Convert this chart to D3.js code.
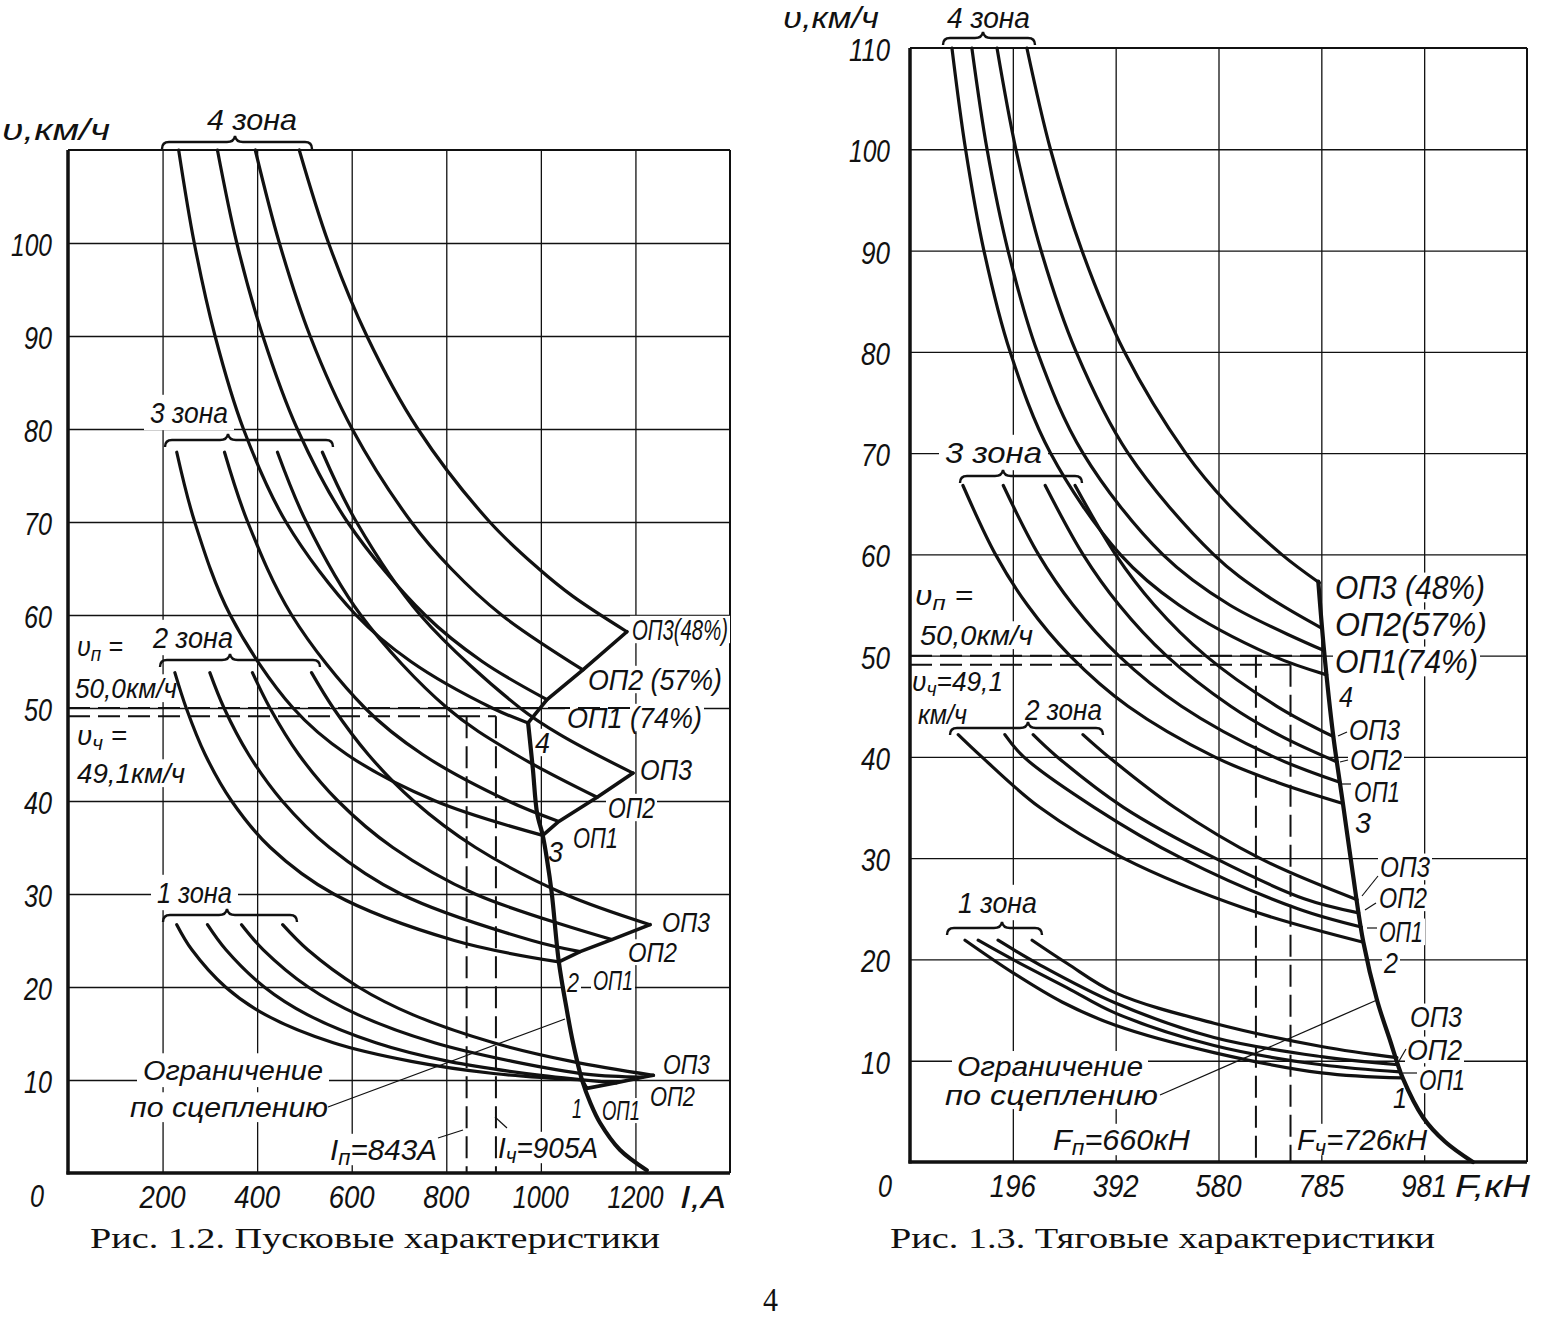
<!DOCTYPE html>
<html><head><meta charset="utf-8">
<script src="https://cdn.jsdelivr.net/npm/d3@7"></script>
<style>body{margin:0;background:#fff}svg{display:block}</style>
</head><body>
<svg id="c" width="1544" height="1318"></svg>
<script>
// ---------------- DATA: Рис. 1.2 (I, A ; v, km/h) ----------------
const L4_PP  = [[234,110],[267,100],[311,90],[371,80],[461,70],[609,60],[725,55],[897,50],[973,48.4]];
const L4_OP1 = [[316,110],[357,100],[412,90],[485,80],[591,70],[755,60],[876,55],[1013,50.9]];
const L4_OP2 = [[396,110],[447,100],[512,90],[601,80],[726,70],[810,65],[917,60],[1089,54.1]];
const L4_OP3 = [[489,110],[551,100],[632,90],[740,80],[892,70],[995,65],[1068,62],[1182,58.2]];
const L3_PP  = [[230,77.5],[268,70],[343,60],[476,50],[590,45],[777,40],[1004,36.3]];
const L3_OP1 = [[331,77.5],[380,70],[473,60],[628,50],[750,45],[931,40],[1038,37.8]];
const L3_OP2 = [[443,77.5],[504,70],[619,60],[802,50],[947,45],[1119,40.4]];
const L3_OP3 = [[538,77.5],[610,70],[745,60],[956,50],[1045,47],[1195,43.0]];
const L2_PP  = [[226,53.8],[250,50],[290,45],[346,40],[428,35],[562,30],[817,25],[1038,22.7]];
const L2_OP1 = [[300,53.8],[330,50],[382,45],[453,40],[553,35],[704,30],[981,25],[1083,23.8]];
const L2_OP2 = [[390,53.8],[427,50],[488,45],[571,40],[687,35],[861,30],[1150,25.1]];
const L2_OP3 = [[515,53.8],[561,50],[635,45],[731,40],[862,35],[1050,30],[1231,26.7]];
const L1_PP  = [[230,26.7],[262,24],[333,20],[418,17],[561,14],[726,12],[900,10.7],[1087,10.0]];
const L1_OP1 = [[295,26.7],[334,24],[415,20],[507,17],[651,14],[805,12],[1000,10.5],[1160,9.7]];
const L1_OP2 = [[367,26.7],[413,24],[508,20],[614,17],[775,14],[940,12],[1100,10.6],[1215,10.3]];
const L1_OP3 = [[454,26.7],[507,24],[614,20],[730,17],[900,14],[1065,12],[1238,10.5]];
const leftJoins = [
  [[973,48.4],[1013,50.9],[1089,54.1],[1182,58.2]],
  [[1004,36.3],[1038,37.8],[1119,40.4],[1195,43.0]],
  [[1038,22.7],[1083,23.8],[1150,25.1],[1231,26.7]],
  [[1087,10.0],[1097,9.1],[1160,9.7],[1215,10.3],[1238,10.5]]
];
const leftLimit = [[973,48.4],[983,43.5],[992,38.7],[1004,36.3],[1013,33.7],[1023,30.1],[1038,22.7],[1055,17.5],[1068,14.0],[1087,10.0],[1105,7.5],[1125,5.4],[1167,2.5],[1224,0.3]];
const leftXTicks = [200,400,600,800,1000,1200];
const leftXLabels = ['200','400','600','800','1000','1200'];
const leftYTicks = [10,20,30,40,50,60,70,80,90,100];
const leftVp = 50.0, leftVch = 49.1, leftIp = 843, leftIch = 905;

// ---------------- DATA: Рис. 1.3 (F, kN ; v, km/h) ----------------
const R4_PP  = [[80,110],[106,100],[141,90],[191,80],[268,70],[401,60],[513,55],[691,50],[795,48.1]];
const R4_OP1 = [[118,110],[147,100],[187,90],[243,80],[330,70],[482,60],[610,55],[790,50.5]];
const R4_OP2 = [[166,110],[202,100],[250,90],[317,80],[416,70],[579,60],[678,56],[786,52.7]];
const R4_OP3 = [[223,110],[268,100],[328,90],[409,80],[526,70],[606,65],[709,60],[781,57.2]];
const R3_PP  = [[101,66.8],[163,60],[224,55],[305,50],[416,45],[581,40],[700,37.5],[826,35.4]];
const R3_OP1 = [[178,66.8],[245,60],[311,55],[398,50],[518,45],[694,40],[820,37.5]];
const R3_OP2 = [[258,66.8],[330,60],[399,55],[489,50],[612,45],[710,42],[815,39.5]];
const R3_OP3 = [[315,66.8],[392,60],[466,55],[564,50],[700,45],[808,42.0]];
const R2_PP  = [[92,42.2],[137,40],[248,35],[407,30],[641,25],[865,21.7]];
const R2_OP1 = [[181,42.2],[217,40],[352,35],[518,30],[740,25],[861,23.2]];
const R2_OP2 = [[235,42.2],[281,40],[408,35],[582,30],[752,26],[856,24.6]];
const R2_OP3 = [[330,42.2],[379,40],[505,35],[667,30],[853,25.9]];
const R1_PP  = [[105,21.9],[196,18.7],[290,15.8],[392,13.5],[580,10.8],[785,8.8],[939,8.3]];
const R1_OP1 = [[130,21.9],[196,20.0],[300,17.2],[392,14.7],[580,11.5],[785,9.6],[935,8.9]];
const R1_OP2 = [[168,21.9],[250,19.4],[392,15.7],[580,12.3],[785,10.4],[931,9.6]];
const R1_OP3 = [[233,21.9],[300,19.6],[392,16.7],[580,13.7],[785,11.4],[929,10.3]];
const rightLimit = [[779,57.3],[790,50.5],[807,42.3],[826,35.4],[844,28.8],[865,21.7],[891,16.0],[916,12.0],[940,8.3],[979,4.4],[1021,2.0],[1074,0]];
const rightXTicks = [196.2,392.4,588.6,784.8,981];
const rightXLabels = ['196','392','580','785','981'];
const rightYTicks = [10,20,30,40,50,60,70,80,90,100];
const rightVp = 50.0, rightVch = 49.1, rightFp = 660, rightFch = 726;

// ---------------- LAYOUT ----------------
const INK = '#111';
const SANS = "'Liberation Sans', Arial, sans-serif";
const SERIF = "'Liberation Serif', 'Times New Roman', serif";
const svg = d3.select('#c');

const Lx = d3.scaleLinear().domain([0,1400]).range([68,730]);
const Ly = d3.scaleLinear().domain([0,110]).range([1173,150]);
const Rx = d3.scaleLinear().domain([0,1177.2]).range([910,1527]);
const Ry = d3.scaleLinear().domain([0,110]).range([1162,48]);

// text helper; o.bg = padding of a white box behind the text (cuts grid lines like the drawing)
function T(g, parts, x, y, o = {}) {
  const size = o.size || 30;
  const t = g.append('text').attr('x', x).attr('y', y)
    .attr('font-family', o.serif ? SERIF : SANS)
    .attr('font-style', o.serif ? 'normal' : 'italic')
    .attr('font-size', size).attr('fill', INK);
  if (o.w) t.attr('textLength', o.w).attr('lengthAdjust', 'spacingAndGlyphs');
  if (typeof parts === 'string') t.text(parts);
  else parts.forEach(p => {
    const s = t.append('tspan').text(p[0]);
    if (p[1] === 'sub') s.attr('font-size', size * 0.75).attr('dy', 5);
    if (p[1] === 'up') s.attr('dy', -5);
  });
  if (o.bg !== undefined) {
    const pad = o.bg;
    const top = y - size * 0.74, h = size * 0.78;
    const w = o.w || t.node().getComputedTextLength();
    g.insert('rect', () => t.node()).attr('x', x - pad).attr('y', top - pad)
      .attr('width', w + 2 * pad).attr('height', h + 2 * pad).attr('fill', '#fff');
  }
  return t;
}

function frame(g, xs, ys, xTicks, yTicks) {
  const [x0, x1] = xs.range(), [y0, y1] = ys.range();
  g.append('g').attr('transform', `translate(0,${y0})`)
    .call(d3.axisBottom(xs).tickValues(xTicks).tickSize(-(y0 - y1)).tickFormat(''))
    .call(a => { a.select('.domain').remove(); a.selectAll('line').attr('stroke', INK).attr('stroke-width', 1.3); });
  g.append('g').attr('transform', `translate(${x0},0)`)
    .call(d3.axisLeft(ys).tickValues(yTicks).tickSize(-(x1 - x0)).tickFormat(''))
    .call(a => { a.select('.domain').remove(); a.selectAll('line').attr('stroke', INK).attr('stroke-width', 1.3); });
  g.append('line').attr('x1', x0).attr('x2', x1).attr('y1', y1).attr('y2', y1).attr('stroke', INK).attr('stroke-width', 2);
  g.append('line').attr('x1', x1).attr('x2', x1).attr('y1', y1).attr('y2', y0).attr('stroke', INK).attr('stroke-width', 2);
}
function axes(g, xs, ys) {
  const [x0, x1] = xs.range(), [y0, y1] = ys.range();
  g.append('line').attr('x1', x0).attr('x2', x0).attr('y1', y1).attr('y2', y0 + 1.5).attr('stroke', INK).attr('stroke-width', 3.5);
  g.append('line').attr('x1', x0 - 1.5).attr('x2', x1).attr('y1', y0).attr('y2', y0).attr('stroke', INK).attr('stroke-width', 3.5);
}

function brace(g, x0, x1, xm, y) {
  const p = d3.path();
  p.moveTo(x0, y + 7); p.quadraticCurveTo(x0, y, x0 + 7, y);
  p.lineTo(xm - 8, y); p.quadraticCurveTo(xm - 1, y, xm, y - 6); p.quadraticCurveTo(xm + 1, y, xm + 8, y);
  p.lineTo(x1 - 7, y); p.quadraticCurveTo(x1, y, x1, y + 7);
  g.append('path').attr('d', p.toString()).attr('fill', 'none').attr('stroke', INK).attr('stroke-width', 2.4);
}

function curves(g, xs, ys, list, w, kind) {
  const line = d3.line().x(d => xs(d[0])).y(d => ys(d[1]))
    .curve(kind === 'lin' ? d3.curveLinear : d3.curveCatmullRom.alpha(0.5));
  list.forEach(c => g.append('path').attr('d', line(c)).attr('fill', 'none')
    .attr('stroke', INK).attr('stroke-width', w).attr('stroke-linecap', 'round').attr('stroke-linejoin', 'round'));
}
function seg(g, x1, y1, x2, y2, w, dash) {
  const l = g.append('line').attr('x1', x1).attr('y1', y1).attr('x2', x2).attr('y2', y2)
    .attr('stroke', INK).attr('stroke-width', w);
  if (dash) l.attr('stroke-dasharray', dash);
}

// ================= LEFT CHART =================
const gl = svg.append('g');
frame(gl, Lx, Ly, leftXTicks, leftYTicks);

T(gl, 'Ограничение', 143, 1080, { w: 180, size: 28, bg: 6 });
T(gl, 'по сцеплению', 130, 1117, { w: 198, size: 28, bg: 4 });
T(gl, [['I'], ['п', 'sub'], ['=843A', 'up']], 330, 1160, { w: 107, bg: 4 });
T(gl, [['I'], ['ч', 'sub'], ['=905A', 'up']], 498, 1158, { w: 100, bg: 4 });
T(gl, [['υ'], ['п', 'sub'], [' =', 'up']], 77, 656, { w: 46, size: 28, bg: 3 });
T(gl, '50,0км/ч', 75, 698, { w: 102, size: 28, bg: 3 });
T(gl, [['υ'], ['ч', 'sub'], [' =', 'up']], 77, 745, { w: 50, size: 28, bg: 3 });
T(gl, '49,1км/ч', 77, 783, { w: 108, size: 28, bg: 3 });
[['4 зона', 207, 130, 90], ['3 зона', 150, 423, 78], ['2 зона', 153, 648, 80], ['1 зона', 157, 903, 75]]
  .forEach(z => T(gl, z[0], z[1], z[2], { w: z[3], bg: 6 }));
[['ОП3(48%)', 632, 640, 96, 30], ['ОП2 (57%)', 588, 690, 134, 30], ['ОП1 (74%)', 567, 728, 135, 30], ['4', 535, 753, 15, 30],
 ['ОП3', 640, 780, 52, 30], ['ОП2', 608, 818, 47, 30], ['ОП1', 573, 848, 45, 30], ['3', 548, 862, 15, 30],
 ['ОП3', 662, 932, 48, 28], ['ОП2', 628, 962, 49, 28], ['2', 567, 992, 12, 28], ['ОП1', 593, 990, 40, 28],
 ['ОП3', 663, 1074, 47, 27], ['ОП2', 650, 1106, 45, 27], ['1', 572, 1118, 10, 27], ['ОП1', 602, 1120, 38, 27]
].forEach(d => T(gl, d[0], d[1], d[2], { w: d[3], size: d[4], bg: 2 }));

seg(gl, Lx(0), Ly(leftVp), Lx(1195), Ly(leftVp), 2, '22,8');
seg(gl, Lx(0), Ly(leftVch), Lx(leftIch), Ly(leftVch), 2, '22,8');
seg(gl, Lx(leftIp), Ly(leftVch), Lx(leftIp), Ly(0), 2, '22,8');
seg(gl, Lx(leftIch), Ly(leftVch), Lx(leftIch), Ly(0), 2, '22,8');
seg(gl, 328, 1107, 565, 1019, 1.3);
seg(gl, 438, 1138, 463, 1130, 1.2);
seg(gl, 495, 1117, 507, 1128, 1.2);
axes(gl, Lx, Ly);

curves(gl, Lx, Ly, [L4_PP, L4_OP1, L4_OP2, L4_OP3, L3_PP, L3_OP1, L3_OP2, L3_OP3,
  L2_PP, L2_OP1, L2_OP2, L2_OP3, L1_PP, L1_OP1, L1_OP2, L1_OP3], 3.2);
curves(gl, Lx, Ly, leftJoins, 3.6, 'lin');
curves(gl, Lx, Ly, [leftLimit], 4.2);
[[162, 312, 235, 142], [165, 333, 228, 440], [160, 320, 230, 660], [163, 297, 227, 915]].forEach(b => brace(gl, ...b));

T(gl, 'υ,км/ч', 2, 140, { w: 108 });
leftYTicks.forEach(v => {
  const w = v >= 100 ? 41 : 28;
  T(gl, String(v), 52 - w, Ly(v) + 13, { w: w, size: 32 });
});
T(gl, '0', 30, 1207, { w: 14, size: 32 });
leftXTicks.forEach((t, i) => {
  const w = leftXLabels[i].length > 3 ? 56 : 46;
  T(gl, leftXLabels[i], Lx(t) - w / 2, 1208, { w: w, size: 32 });
});
T(gl, 'I,A', 680, 1208, { w: 46, size: 32 });

// ================= RIGHT CHART =================
const gr = svg.append('g');
frame(gr, Rx, Ry, rightXTicks, rightYTicks);

T(gr, 'Ограничение', 957, 1076, { w: 186, size: 27, bg: 5 });
T(gr, 'по сцеплению', 945, 1105, { w: 213, size: 27, bg: 3 });
T(gr, [['F'], ['п', 'sub'], ['=660кН', 'up']], 1053, 1150, { w: 137, bg: 4 });
T(gr, [['F'], ['ч', 'sub'], ['=726кН', 'up']], 1297, 1150, { w: 130, bg: 4 });
T(gr, [['υ'], ['п', 'sub'], [' =', 'up']], 915, 605, { w: 58, size: 28, bg: 3 });
T(gr, '50,0км/ч', 920, 645, { w: 113, size: 28, bg: 3 });
T(gr, [['υ'], ['ч', 'sub'], ['=49,1', 'up']], 912, 691, { w: 91, size: 28, bg: 2 });
T(gr, 'км/ч', 918, 724, { w: 49, size: 28, bg: 2 });
[['4 зона', 947, 28, 83], ['3 зона', 945, 463, 97], ['2 зона', 1025, 720, 77], ['1 зона', 958, 913, 79]]
  .forEach(z => T(gr, z[0], z[1], z[2], { w: z[3], bg: 6 }));
[['ОП3 (48%)', 1335, 599, 150, 33], ['ОП2(57%)', 1335, 636, 152, 33], ['ОП1(74%)', 1335, 673, 143, 33], ['4', 1339, 707, 14, 30],
 ['ОП3', 1349, 740, 51, 29], ['ОП2', 1350, 770, 52, 29], ['ОП1', 1354, 802, 46, 29], ['3', 1355, 833, 16, 29],
 ['ОП3', 1380, 877, 50, 29], ['ОП2', 1379, 908, 48, 29], ['ОП1', 1379, 942, 44, 29], ['2', 1384, 973, 14, 29],
 ['ОП3', 1410, 1027, 52, 29], ['ОП2', 1407, 1060, 55, 29], ['ОП1', 1419, 1090, 46, 29], ['1', 1393, 1108, 14, 29]
].forEach(d => T(gr, d[0], d[1], d[2], { w: d[3], size: d[4], bg: 2 }));

seg(gr, Rx(0), Ry(rightVp), Rx(790), Ry(rightVp), 2, '22,8');
seg(gr, Rx(0), Ry(rightVch), Rx(rightFch), Ry(rightVch), 2, '22,8');
seg(gr, Rx(rightFp), Ry(rightVp), Rx(rightFp), Ry(0), 2, '22,8');
seg(gr, Rx(rightFch), Ry(rightVch), Rx(rightFch), Ry(0), 2, '22,8');
seg(gr, 1160, 1095, 1377, 1000, 1.3);
seg(gr, 1338, 736, 1347, 732, 1.2);
seg(gr, 1340, 762, 1348, 760, 1.2);
seg(gr, 1342, 784, 1351, 784, 1.2);
seg(gr, 1362, 896, 1378, 876, 1.2);
seg(gr, 1365, 910, 1376, 903, 1.2);
seg(gr, 1367, 928, 1377, 928, 1.2);
seg(gr, 1399, 1061, 1406, 1049, 1.2);
seg(gr, 1403, 1073, 1417, 1073, 1.2);
axes(gr, Rx, Ry);

curves(gr, Rx, Ry, [R4_PP, R4_OP1, R4_OP2, R4_OP3, R3_PP, R3_OP1, R3_OP2, R3_OP3,
  R2_PP, R2_OP1, R2_OP2, R2_OP3, R1_PP, R1_OP1, R1_OP2, R1_OP3], 3.2);
curves(gr, Rx, Ry, [rightLimit], 4.2);
[[943, 1035, 983, 38], [960, 1082, 1003, 476], [950, 1103, 1028, 728], [947, 1042, 1002, 928]].forEach(b => brace(gr, ...b));

T(gr, 'υ,км/ч', 783, 28, { w: 96 });
rightYTicks.concat([110]).forEach(v => {
  const w = v >= 100 ? 41 : 29;
  T(gr, String(v), 890 - w, Ry(v) + 13, { w: w, size: 32 });
});
T(gr, '0', 878, 1197, { w: 14, size: 32 });
rightXTicks.forEach((t, i) => T(gr, rightXLabels[i], Rx(t) - 23, 1197, { w: 46, size: 32 }));
T(gr, 'F,кН', 1455, 1197, { w: 75, size: 32 });

// ================= CAPTIONS =================
T(svg, 'Рис. 1.2. Пусковые характеристики', 90, 1248, { serif: true, size: 30, w: 570 });
T(svg, 'Рис. 1.3. Тяговые характеристики', 890, 1248, { serif: true, size: 30, w: 545 });
T(svg, '4', 763, 1311, { serif: true, size: 34, w: 15 });
</script>
</body></html>
